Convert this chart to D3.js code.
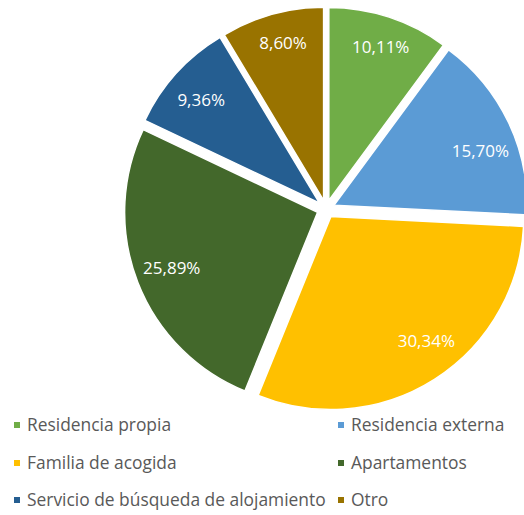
<!DOCTYPE html>
<html><head><meta charset="utf-8">
<script src="https://cdn.jsdelivr.net/npm/d3@7"></script>
<style>html,body{margin:0;padding:0;background:#fff;overflow:hidden}</style>
</head><body><svg id="chart" width="524" height="515"></svg>
<script>
const categories = ["Residencia propia","Residencia externa","Familia de acogida","Apartamentos","Servicio de búsqueda de alojamiento","Otro"];
const values = [10.11, 15.70, 30.34, 25.89, 9.36, 8.60];
const labels = ["10,11%","15,70%","30,34%","25,89%","9,36%","8,60%"];
const colors = ["#70AD47","#5B9BD5","#FFC000","#43682B","#255E91","#997300"];

// layout: small angular nudges (degrees) mimicking the spreadsheet's "best fit" label placement
const labelNudge = [0.5, 5, -5, 0.5, -1, 1];
const labelDist = [162, 156, 157, 156, 157, 162];

const svg = d3.select("#chart");
const cx = 326, cy = 209, r = 193, explode = 9;
const pie = d3.pie().sort(null).value(d => d)(values);
const arc = d3.arc().innerRadius(0).outerRadius(r);
const g = svg.append("g").attr("transform", `translate(${cx},${cy})`);
const mid = d => (d.startAngle + d.endAngle) / 2;
const off = d => [Math.sin(mid(d)) * explode, -Math.cos(mid(d)) * explode];
const s = g.selectAll("g.slice").data(pie).join("g").attr("class","slice")
  .attr("transform", d => `translate(${off(d)[0]},${off(d)[1]})`);
s.append("path").attr("d", arc).attr("fill", (d,i) => colors[i]).attr("stroke","#fff").attr("stroke-width",1.5);
s.append("text").attr("transform", (d,i) => {
    const a = mid(d) + labelNudge[i] * Math.PI / 180, R = labelDist[i];
    return `translate(${Math.sin(a) * R},${-Math.cos(a) * R})`;
  })
  .attr("text-anchor","middle").attr("dy","0.35em")
  .attr("fill","#fff").attr("font-family","Open Sans, sans-serif").attr("font-size","17px")
  .text((d,i) => labels[i]);

const legX = [14, 338], legY = [425, 463, 500];
const lg = svg.selectAll("g.leg").data(categories).join("g").attr("class","leg")
  .attr("transform", (d,i) => `translate(${legX[i%2]},${legY[Math.floor(i/2)]})`);
lg.append("rect").attr("x",0).attr("y",-3).attr("width",6).attr("height",6).attr("fill",(d,i)=>colors[i]);
lg.append("text").attr("x",13).attr("dy","0.35em").attr("fill","#595959")
  .attr("font-family","Open Sans, sans-serif").attr("font-size","17.4px").text(d => d);
</script></body></html>
